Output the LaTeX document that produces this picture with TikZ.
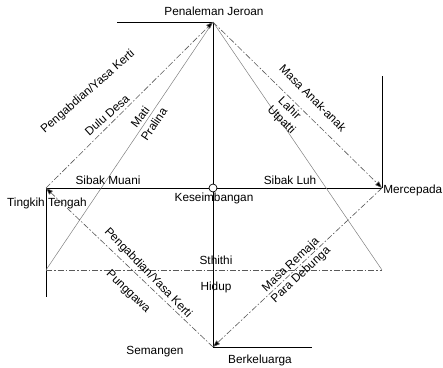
\documentclass[tikz,border=0pt]{standalone}
\usepackage{fontspec}
\setmainfont{Liberation Sans}
\usetikzlibrary{arrows.meta}
\begin{document}
\begin{tikzpicture}[x=1pt,y=-1pt,
  mainline/.style={draw=black,line width=0.9pt},
  thinline/.style={draw=black!50,line width=0.5pt},
  dashline/.style={draw=black!65,line width=0.6pt,dash pattern=on 6pt off 2pt on 1.5pt off 2pt},
  dasharrow/.style={dashline,-{Triangle[length=7pt,width=5pt,fill=black]}},
  lbl/.style={font=\fontsize{11.8}{13}\selectfont,inner sep=0pt,text=black}]
\useasboundingbox (0,0) rectangle (443,367);
\coordinate (T) at (213,22);
\coordinate (L) at (46,188);
\coordinate (R) at (382,188);
\coordinate (B) at (213,347);
\coordinate (topL) at (117,22);
\coordinate (Lbot) at (46,297);
\coordinate (Rtop) at (382,76);
\coordinate (Bend) at (312,347);
\coordinate (Lmid) at (46,270);
\coordinate (Rmid) at (382,270);
% solid frame lines
\draw[mainline] (topL) -- (T);
\draw[mainline] (T) -- (B);
\draw[mainline] (L) -- (R);
\draw[mainline] (L) -- (Lbot);
\draw[mainline] (Rtop) -- (R);
\draw[mainline] (B) -- (Bend);
% lower dashed horizontal
\draw[dashline] (Lmid) -- (Rmid);
% thin diagonals
\draw[thinline] (Lmid) -- (T);
\draw[thinline] (T) -- (Rmid);
% dashed arrow cycle
\draw[dasharrow] (L) -- (T);
\draw[dasharrow] (T) -- (R);
\draw[dasharrow] (R) -- (B);
\draw[dasharrow] (B) -- (L);
% centre circle
\node[circle,draw=black,fill=white,line width=0.7pt,minimum size=8pt,inner sep=0pt] (C) at (213,188) {};
% labels
\node[lbl] (pj) at (214,11) {Penaleman Jeroan};
\node[lbl] (sm) at (108,180) {Sibak Muani};
\node[lbl] (sl) at (290,180) {Sibak Luh};
\node[lbl] (tt) at (47,203) {Tingkih Tengah};
\node[lbl] (ks) at (214,198) {Keseimbangan};
\node[lbl,anchor=east] (mc) at (442.5,190) {Mercepada};
\node[lbl] (st) at (216,260) {Sthithi};
\node[lbl] (hd) at (216,287) {Hidup};
\node[lbl] (se) at (155,352) {Semangen};
\node[lbl] (bk) at (260,360) {Berkeluarga};
\node[lbl,rotate=41] (pyk1) at (88,92) {Pengabdian/Yasa Kerti};
\node[lbl,rotate=42] (dd) at (107,115) {Dulu Desa};
\node[lbl,rotate=53] (mt) at (140,117) {Mati};
\node[lbl,rotate=56] (pr) at (154,124) {Pralina};
\node[lbl,rotate=-45] (maa) at (313,98) {Masa Anak-anak};
\node[lbl,rotate=-45] (lh) at (290,108) {Lahir};
\node[lbl,rotate=-45] (ut) at (281,120) {Utpatti};
\node[lbl,rotate=-46] (pyk2) at (148,273) {Pengabdian/Yasa Kerti};
\node[lbl,rotate=-44] (pg) at (128,292) {Punggawa};
\node[lbl,rotate=43] (mr) at (291,265) {Masa Remaja};
\node[lbl,rotate=43] (pd) at (301,275) {Para Debunga};
\end{tikzpicture}
\end{document}
